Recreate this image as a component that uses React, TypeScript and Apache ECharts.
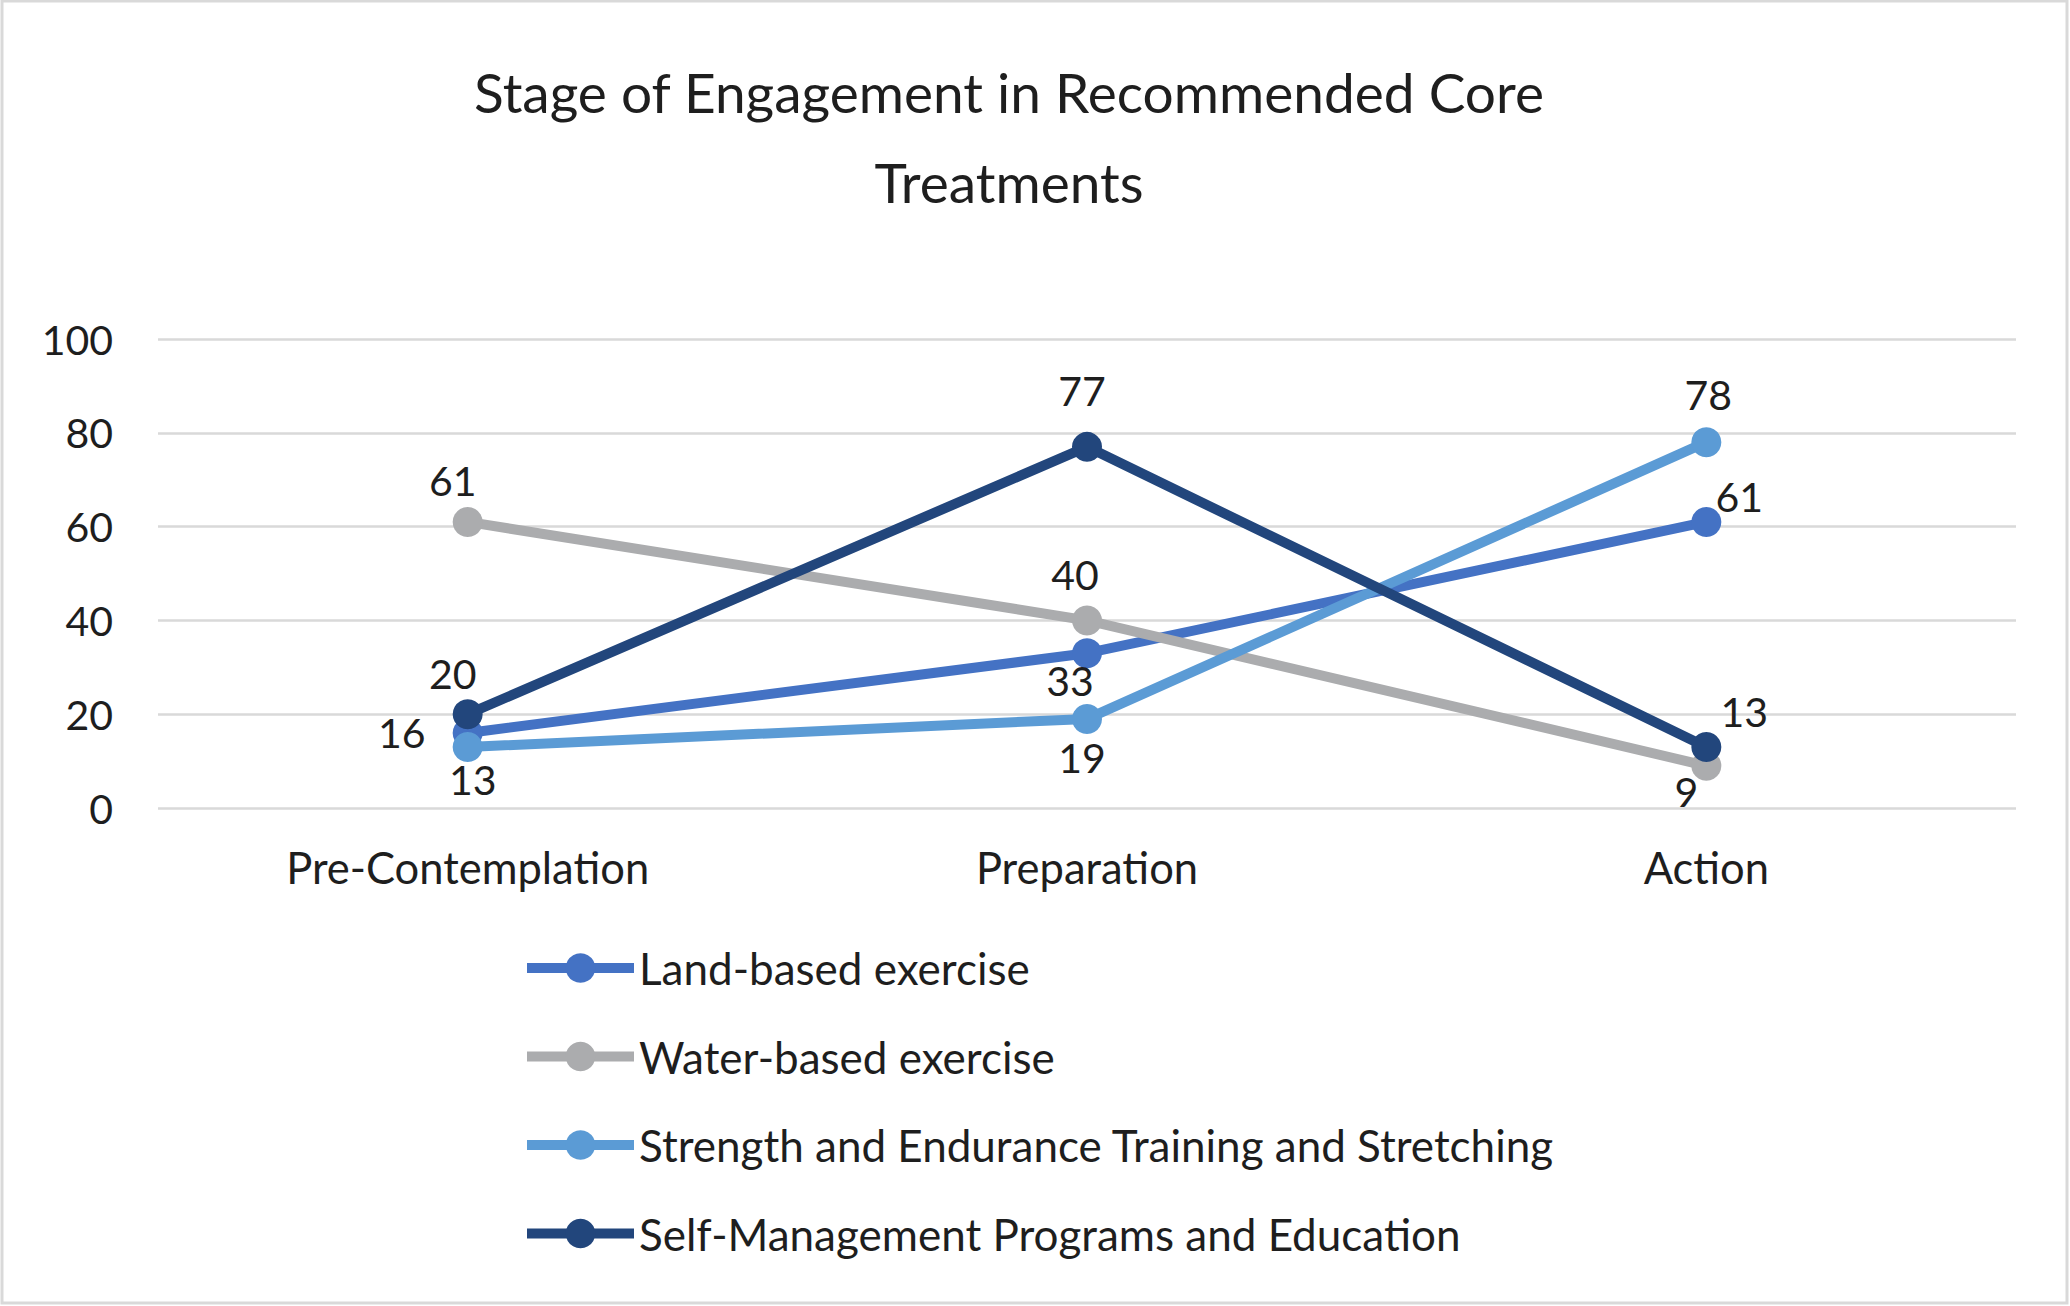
import React, { useEffect, useRef } from "react";
import * as echarts from "echarts";

const titleLines = ["Stage of Engagement in Recommended Core", "Treatments"];
const categories = ["Pre-Contemplation", "Preparation", "Action"];
const seriesNames = [
  "Land-based exercise",
  "Water-based exercise",
  "Strength and Endurance Training and Stretching",
  "Self-Management Programs and Education",
];
const landBased = [16, 33, 61];
const waterBased = [61, 40, 9];
const strengthEndurance = [13, 19, 78];
const selfManagement = [20, 77, 13];
const yTicks = { min: 0, max: 100, interval: 20 };

// styling (not data)
const seriesColors = ["#4472C4", "#ABACAE", "#5B9BD5", "#22467C"];
const labelOffsets = [
  [[-66, 0], [-17, 27], [33, -25]],
  [[-15, -41], [-12, -46], [-20, 26]],
  [[5, 32], [-5, 39], [2, -48]],
  [[-15, -41], [-5, -56], [38, -36]],
];

const FONT = "Lato";
const TEXT_COLOR = "#1e1e1e";
const LINE_W = 10;

export default function App() {
  const ref = useRef<HTMLDivElement>(null);
  useEffect(() => {
    document.body.style.margin = "0";
    const chart = echarts.init(ref.current!, null, { renderer: "svg" });
    const allValues = [landBased, waterBased, strengthEndurance, selfManagement];
    const series = allValues.map((vals, si) => ({
      name: seriesNames[si],
      type: "line",
      data: vals.map((v, i) => ({
        value: v,
        label: { offset: labelOffsets[si][i] },
      })),
      symbol: "circle",
      symbolSize: 30,
      showAllSymbol: true,
      color: seriesColors[si],
      lineStyle: { width: LINE_W, color: seriesColors[si] },
      itemStyle: { color: seriesColors[si] },
      label: {
        show: true,
        position: "inside",
        align: "center",
        verticalAlign: "middle",
        fontFamily: FONT,
        fontSize: 41,
        color: TEXT_COLOR,
      },
      emphasis: { disabled: true },
      z: 2 + si,
    }));
    chart.setOption({
      animation: false,
      backgroundColor: "#ffffff",
      title: {
        text: titleLines.join("\n"),
        left: 1009,
        top: 47,
        padding: 0,
        textAlign: "center",
        textStyle: {
          fontFamily: FONT,
          fontSize: 55,
          fontWeight: "normal",
          color: TEXT_COLOR,
          lineHeight: 90,
        },
      },
      graphic: [
        {
          type: "rect",
          shape: { x: 2, y: 1, width: 2065, height: 1302 },
          style: { fill: "none", stroke: "#d9d9d9", lineWidth: 3 },
          silent: true,
          z: -1,
        },
      ],
      legend: {
        orient: "vertical",
        left: 522,
        top: 943,
        padding: 0,
        itemWidth: 107,
        itemHeight: 37,
        itemGap: 38.5,
        lineStyle: { width: LINE_W },
        textStyle: {
          fontFamily: FONT,
          fontSize: 44,
          color: TEXT_COLOR,
          lineHeight: 50,
          padding: [0, 0, 0, 0],
        },
        data: seriesNames,
      },
      grid: {
        left: 158,
        right: 54,
        top: 339,
        bottom: 498,
        containLabel: false,
      },
      xAxis: {
        type: "category",
        data: categories,
        boundaryGap: true,
        axisLine: { show: false },
        axisTick: { show: false },
        axisLabel: {
          fontFamily: FONT,
          fontSize: 43.5,
          color: TEXT_COLOR,
          margin: 35,
          lineHeight: 48,
        },
      },
      yAxis: {
        type: "value",
        min: yTicks.min,
        max: yTicks.max,
        interval: yTicks.interval,
        axisLine: { show: false },
        axisTick: { show: false },
        splitLine: { show: true, lineStyle: { color: "#d9d9d9", width: 2.5 } },
        axisLabel: {
          fontFamily: FONT,
          fontSize: 41,
          color: TEXT_COLOR,
          margin: 45,
        },
      },
      series,
    });
    return () => chart.dispose();
  }, []);
  return (
    <div
      ref={ref}
      style={{ position: "absolute", left: 0, top: 0, width: 2070, height: 1306 }}
    />
  );
}
